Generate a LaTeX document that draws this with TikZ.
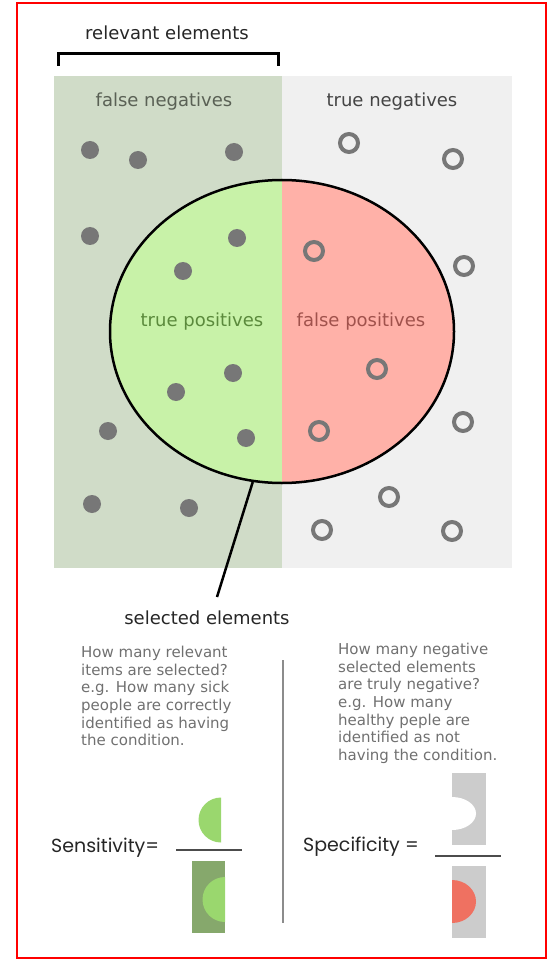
\documentclass[tikz,border=0pt]{standalone}
\usepackage{fontspec}
\setmainfont{DejaVu Sans}
\newfontfamily\eqfont{Poppins}
\usetikzlibrary{shapes.geometric}

\definecolor{fncol}{HTML}{D0DCC8}
\definecolor{tncol}{HTML}{F0F0F0}
\definecolor{tpcol}{HTML}{C8F2A8}
\definecolor{fpcol}{HTML}{FFB1A8}
\definecolor{dotgrey}{HTML}{777777}
\definecolor{fntext}{HTML}{5A6155}
\definecolor{tntext}{HTML}{444444}
\definecolor{tptext}{HTML}{5B8A3C}
\definecolor{fptext}{HTML}{A0524C}
\definecolor{paratext}{HTML}{707070}
\definecolor{sensgreen}{HTML}{9AD76E}
\definecolor{densgreen}{HTML}{86A86C}
\definecolor{specgrey}{HTML}{CCCCCC}
\definecolor{specred}{HTML}{EF7161}

\tikzset{
  bigtext/.style={font=\fontsize{18}{20}\selectfont, inner sep=0},
  para/.style={font=\fontsize{15}{17.6}\selectfont, text=paratext, align=left, inner sep=0},
  eqtext/.style={font=\eqfont\fontsize{19}{22}\selectfont, text=black!85, inner sep=0},
  posdot/.style={fill=dotgrey},
  negdot/.style={draw=dotgrey, line width=4pt},
  fracline/.style={draw=black!70, line width=1.5pt},
  colbox/.style={minimum width=34pt, minimum height=72pt, inner sep=0}
}

\begin{document}
\begin{tikzpicture}[x=1pt,y=-1pt]
 \useasboundingbox (0,0) rectangle (547,965);
 \draw[red, line width=2pt] (16.5,3.5) rectangle (545.5,958);

 % relevant / not relevant halves
 \fill[fncol] (54,76) rectangle (282,568);
 \fill[tncol] (282,76) rectangle (512,568);

 \node[bigtext, text=black!85] (rel) at (167,33) {relevant elements};
 \draw[line width=3pt] (58.5,66) |- (278,54) -- (278,66);

 % selected elements
 \node[ellipse, minimum width=344pt, minimum height=303pt, inner sep=0,
   draw, line width=2.5pt,
   path picture={
     \fill[tpcol] (path picture bounding box.south west) rectangle (path picture bounding box.north);
     \fill[fpcol] (path picture bounding box.north) rectangle (path picture bounding box.south east);
   }] (sel) at (282,331.5) {};

 \node[bigtext, text=fntext] (fn) at (164,102) {false negatives};
 \node[bigtext, text=tntext] (tn) at (392,102) {true negatives};
 \node[bigtext, text=tptext] (tp) at (202,322) {true positives};
 \node[bigtext, text=fptext] (fp) at (361,322) {false positives};

 % relevant items
 \foreach \x/\y in {90/150, 138/160, 234/152, 90/236, 237/238, 183/271,
   233/373, 176/392, 108/431, 246/438, 92/504, 189/508}
   \fill[posdot] (\x,\y) circle (9pt);

 % not relevant items
 \foreach \x/\y in {349/143, 453/159, 314/251, 464/266, 377/369, 319/431,
   463/422, 389/497, 322/530, 452/531}
   \draw[negdot] (\x,\y) circle (9pt);

 \node[bigtext, text=black!85] (selLbl) at (207,618) {selected elements};
 \coordinate (selTip) at (217,597);
 \draw[line width=2.5pt] (sel.-101) -- (selTip);

 % questions
 \node[para, anchor=north west] (sensTxt) at (81,646)
   {How many relevant\\items are selected?\\e.g. How many sick\\people are correctly\\identified as having\\the condition.};
 \node[para, anchor=north west] (specTxt) at (338,643)
   {How many negative\\selected elements\\are truly negative?\\e.g. How many\\healthy peple are\\identified as not\\having the condition.};

 \draw[black!45, line width=1.5pt] (283,660) -- (283,923);

 % sensitivity
 \node[eqtext, anchor=west] (sens) at (51,848) {Sensitivity=};
 \draw[fracline] (176,850) -- (242,850);
 \fill[sensgreen] (221,797.5) arc (90:270:22.5pt) -- cycle;
 \node[colbox, fill=densgreen, minimum width=33pt] (sensDen) at (208.5,897) {};
 \fill[sensgreen] (225,877) arc (90:270:22.5pt) -- cycle;

 % specificity
 \node[eqtext, anchor=west] (spec) at (303,847) {Specificity =};
 \draw[fracline] (435,856) -- (501,856);
 \node[colbox, fill=specgrey] (specNum) at (469,809) {};
 \fill[white] (452,797) arc[start angle=90, end angle=-90, x radius=24pt, y radius=16.5pt] -- cycle;
 \node[colbox, fill=specgrey] (specDen) at (469,902) {};
 \fill[specred] (452,880) arc[start angle=90, end angle=-90, x radius=24pt, y radius=21.5pt] -- cycle;
\end{tikzpicture}
\end{document}
